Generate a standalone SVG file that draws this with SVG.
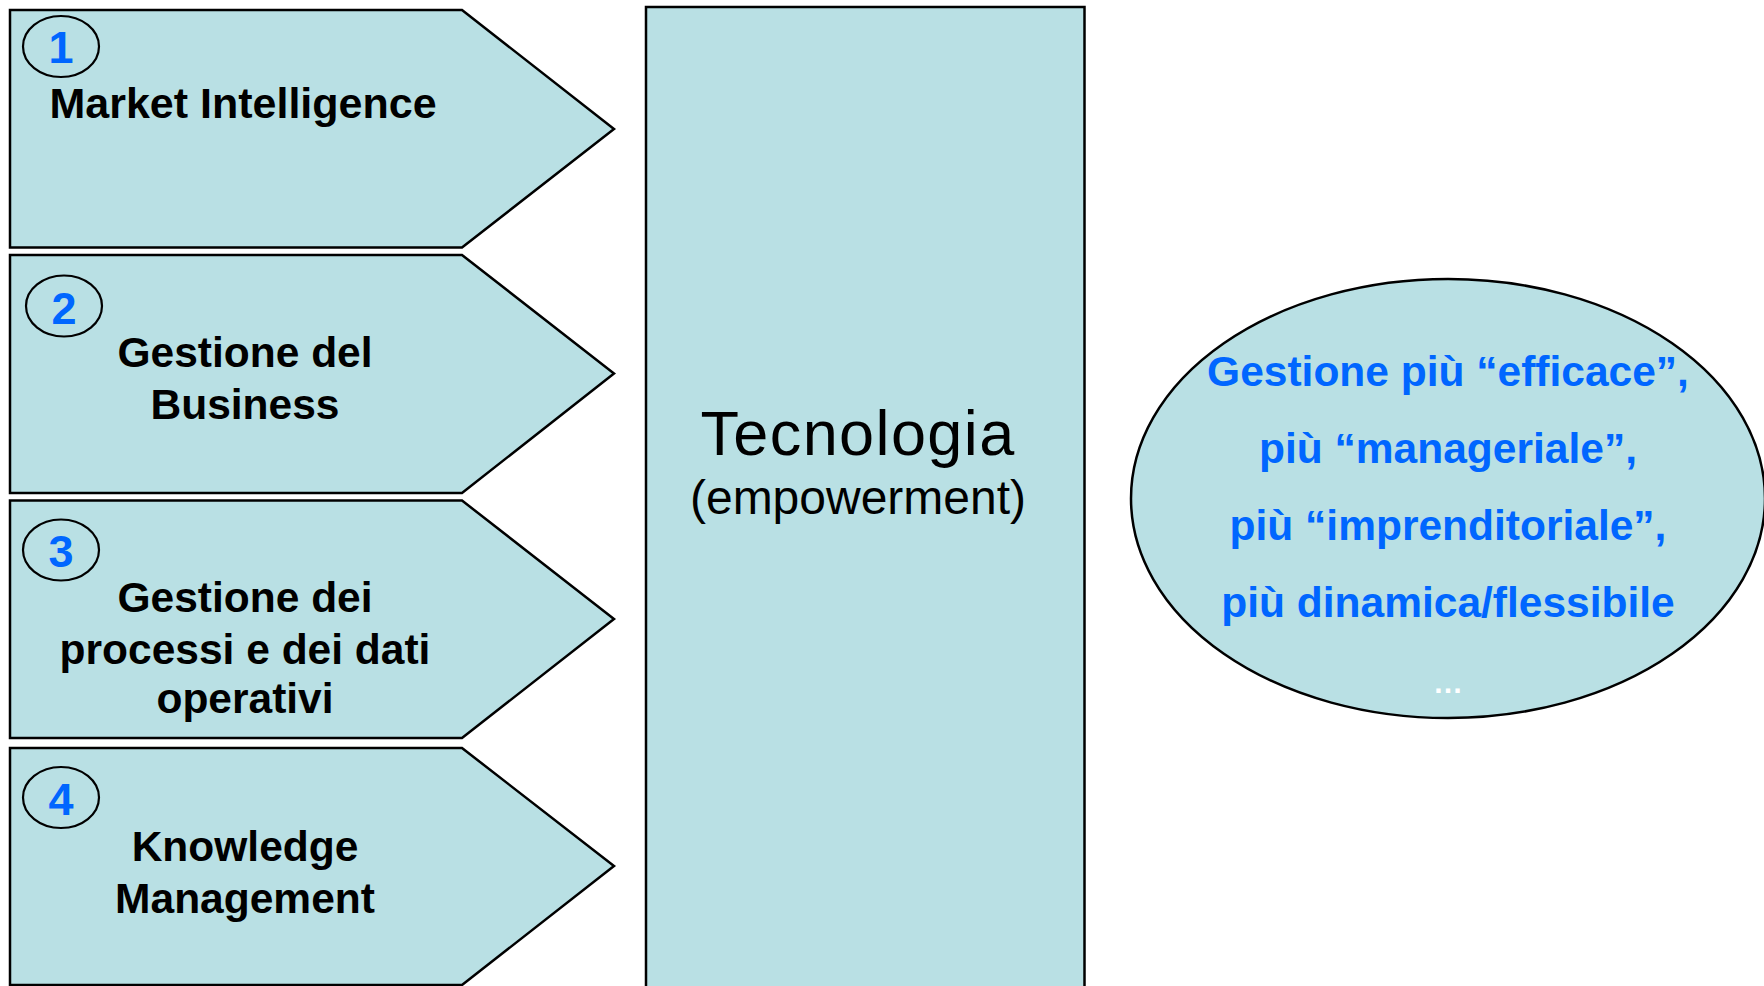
<svg xmlns="http://www.w3.org/2000/svg" width="1764" height="986" viewBox="0 0 1764 986">
<style>
.shape{fill:#B9E0E4;stroke:#000;stroke-width:2.5}
.badge{fill:none;stroke:#000;stroke-width:2.2}
.num{font-family:"Liberation Sans",Arial,sans-serif;font-weight:bold;font-size:45px;fill:#0066FF;text-anchor:middle}
.lbl{font-family:"Liberation Sans",Arial,sans-serif;font-weight:bold;font-size:42.5px;fill:#000;text-anchor:middle}
.blue{font-family:"Liberation Sans",Arial,sans-serif;font-weight:bold;font-size:42.5px;fill:#0066FF;text-anchor:middle}
.reg{font-family:"Liberation Sans",Arial,sans-serif;fill:#000;text-anchor:middle}
</style>
<rect width="1764" height="986" fill="#fff"/>
<g id="connectors"/>
<g id="node-1">
<polygon class="shape" points="10,10 462,10 614,129 462,247.5 10,247.5"/>
<ellipse class="badge" cx="61" cy="46.5" rx="38" ry="30.5"/>
<text class="num" x="61" y="63">1</text>
<text class="lbl" x="243" y="118" style="font-size:43px">Market Intelligence</text>
</g>
<g id="node-2">
<polygon class="shape" points="10,255 462,255 614,373.5 462,493 10,493"/>
<ellipse class="badge" cx="64" cy="306" rx="38" ry="30.5"/>
<text class="num" x="64" y="324">2</text>
<text class="lbl" x="245" y="367">Gestione del</text>
<text class="lbl" x="245" y="419">Business</text>
</g>
<g id="node-3">
<polygon class="shape" points="10,500.5 462,500.5 614,619 462,738 10,738"/>
<ellipse class="badge" cx="61" cy="550" rx="38" ry="30.5"/>
<text class="num" x="61" y="567">3</text>
<text class="lbl" x="245" y="612">Gestione dei</text>
<text class="lbl" x="245" y="664">processi e dei dati</text>
<text class="lbl" x="245" y="713">operativi</text>
</g>
<g id="node-4">
<polygon class="shape" points="10,748 462,748 614,866 462,985 10,985"/>
<ellipse class="badge" cx="61" cy="797.5" rx="38" ry="30.5"/>
<text class="num" x="61" y="815">4</text>
<text class="lbl" x="245" y="861">Knowledge</text>
<text class="lbl" x="245" y="913">Management</text>
</g>
<g id="tecnologia">
<rect class="shape" x="646" y="7" width="438.5" height="990"/>
<text class="reg" x="858" y="454.5" font-size="63" letter-spacing="1.4">Tecnologia</text>
<text class="reg" x="858" y="514" font-size="48">(empowerment)</text>
</g>
<g id="outcome">
<ellipse class="shape" cx="1448" cy="498.5" rx="317" ry="219.5"/>
<text class="blue" x="1448" y="386">Gestione più “efficace”,</text>
<text class="blue" x="1448" y="463">più “manageriale”,</text>
<text class="blue" x="1448" y="540">più “imprenditoriale”,</text>
<text class="blue" x="1448" y="617">più dinamica/flessibile</text>
<text class="blue" x="1448" y="693" style="fill:#fff;font-size:30px">…</text>
</g>
</svg>
